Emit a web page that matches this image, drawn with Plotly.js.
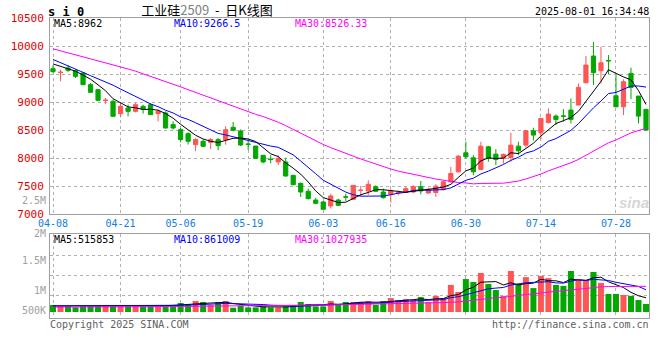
<!DOCTYPE html>
<html><head><meta charset="utf-8">
<script src="https://cdn.plot.ly/plotly-3.0.1.min.js"></script>
<style>html,body{margin:0;padding:0;background:#fff}#chart{width:660px;height:360px}</style>
</head><body><div id="chart"></div>
<script>
// ---------------- data ----------------
const dates = ['04-08','04-09','04-10','04-11','04-14','04-15','04-16','04-17','04-18','04-21','04-22','04-23','04-24','04-25','04-28','04-29','04-30',
'05-06','05-07','05-08','05-09','05-12','05-13','05-14','05-15','05-16','05-19','05-20','05-21','05-22','05-23','05-26','05-27','05-28','05-29','05-30',
'06-03','06-04','06-05','06-06','06-09','06-10','06-11','06-12','06-13','06-16','06-17','06-18','06-19','06-20','06-23','06-24','06-25','06-26','06-27','06-30',
'07-01','07-02','07-03','07-04','07-07','07-08','07-09','07-10','07-11','07-14','07-15','07-16','07-17','07-18','07-21','07-22','07-23','07-24','07-25','07-28','07-29','07-30','07-31',
'08-01'];
const openP  = [9595,9528,9607,9560,9518,9310,9220,9028,9012,8792, 8893,8833,8923,8952,8792,8804,8596,8506,8435,8238, 8298,8280,8328,8328,8548,8482,8250,8214,8048,7980,
                7929,7929,7691,7548,7405,7250,7215,7143,7250,7306, 7262,7420,7411,7488,7393,7351,7373,7393,7393,7488, 7375,7384,7437,7574,7753,8093,8003,7795,8200,8069,
                7992,8009,8212,8230,8486,8450,8635,8749,8752,8856, 8945,9344,9821,9559,9740,9112,8915,9511,9106,8868];
const highP  = [9660,9577,9655,9577,9530,9340,9232,9072,9042,8982, 8952,8982,8952,8982,8863,8833,8655,8536,8459,8358, 8328,8358,8358,8566,8643,8510,8304,8214,8048,8048,
                8048,8006,7691,7560,7453,7292,7233,7364,7274,7364, 7512,7500,7601,7512,7453,7441,7423,7488,7512,7590, 7470,7533,7604,7843,8051,8290,8051,8290,8218,8158,
                8081,8450,8290,8498,8540,8707,8885,8779,8874,9064, 9332,9821,10071,9988,9839,9482,9404,9613,9106,8880];
const lowP   = [9520,9369,9536,9429,9300,9161,9012,8970,8744,8726, 8744,8815,8792,8774,8655,8524,8506,8280,8240,8120, 8197,8161,8137,8238,8477,8214,8143,7988,7905,7905,
                7875,7667,7512,7304,7262,7173,7084,7096,7143,7233, 7250,7322,7334,7393,7274,7203,7333,7381,7369,7351, 7360,7306,7420,7560,7741,7992,7693,7783,7933,7872,
                7900,7933,8051,8188,8310,8331,8617,8588,8647,8617, 8945,9332,9303,9332,9500,8903,8766,9052,8617,8498];
const closeP = [9542,9532,9565,9458,9310,9173,9030,9033,8744,8923, 8833,8952,8875,8774,8833,8536,8536,8328,8298,8328, 8209,8328,8220,8506,8495,8232,8244,7994,7929,7972,
                7989,7679,7524,7393,7274,7191,7084,7322,7155,7302, 7512,7425,7530,7405,7292,7411,7378,7453,7488,7411, 7440,7497,7574,7723,8033,8021,7753,8212,7992,7974,
                8063,8230,8129,8486,8409,8707,8784,8689,8746,8689, 9261,9660,9523,9702,9735,8915,9362,9261,8748,8498];
const volume = [287,246,246,190,246,246,246,287,246,246, 287,246,246,287,246,287,287,369,328,450,
                410,287,410,450,175,260,190,190,230,190, 190,230,287,410,328,230,230,450,330,410,
                410,410,450,290,450,570,490,530,490,610, 410,660,570,1110,820,1350,1230,1600,1150,900,
                660,1680,1150,1430,980,1480,1390,1110,1070,1680, 1310,1310,1640,1190,740,740,700,660,490,330].map(v => v * 1000);
// moving-average values before a full window exists
const ma5Head  = [9680,9640,9600,9550];
const ma10Head = [9760,9705,9650,9590,9530,9470,9415,9360,9300];
const ma30Head = [9950,9915,9880,9845,9805,9770,9740,9705,9668,9630,9590,9550,9505,9460,9415,9370,9320,9270,9220,9170,9120,9070,9020,8970,8920,8870,8820,8780,8740];
const vma5Head  = [250000,250000,245000,240000];
const vma10Head = [250000,250000,250000,248000,246000,245000,245000,245000,248000];
const vma30Head = [200000,200000,200000,205000,205000,205000,210000,210000,210000,215000,215000,215000,220000,220000,220000,225000,225000,230000,230000,235000,240000,245000,250000,250000,255000,260000,265000,270000,275000];
const tickDates = ['04-08','04-21','05-06','05-19','06-03','06-16','06-30','07-14','07-28'];
const priceLegend = ['MA5:8962','MA10:9266.5','MA30:8526.33'];
const volLegend   = ['MA5:515853','MA10:861009','MA30:1027935'];
const volTickLabels = ['2.5M','2M','1.5M','1M','500K'];
const titleText = '工业硅<span style="color:#808080">2509</span>&nbsp; -&nbsp; 日K线图';
const symbolText = 's i 0';
const timeText = '2025-08-01 16:34:48';
const copyText = 'Copyright 2025 SINA.COM';
const urlText = 'http://finance.sina.com.cn';

// ---------------- helpers ----------------
function movingAvg(vals, n, head) {
  return vals.map((v, i) => {
    if (i < n - 1) return head[i];
    let s = 0; for (let k = i - n + 1; k <= i; k++) s += vals[k];
    return s / n;
  });
}
const idx = dates.map((d, i) => i);
const RED = '#ff5555', GREEN = '#00a800';
const MONO = 'DejaVu Sans Mono, Liberation Mono, monospace';
const W = 660, H = 360, L = 50, R = 11, T = 18, B = 42;
const pw = W - L - R, ph = H - T - B;
const px = x => (x - L) / pw;
const py = y => (H - B - y) / ph;
const xRange = [-0.4, dates.length - 1 + 0.4];
const tickvals = tickDates.map(d => Math.max(dates.indexOf(d), xRange[0]));
const volRange = [-246000, 3184000];
const volGrid = [0.27, 0.51, 0.75].map(f => volRange[0] + (volRange[1] - volRange[0]) * f);

const ma5 = movingAvg(closeP, 5, ma5Head);
const ma10 = movingAvg(closeP, 10, ma10Head);
const ma30 = movingAvg(closeP, 30, ma30Head);
const vma5 = movingAvg(volume, 5, vma5Head);
const vma10 = movingAvg(volume, 10, vma10Head);
const vma30 = movingAvg(volume, 30, vma30Head);
const volColors = idx.map(i => closeP[i] >= openP[i] ? RED : GREEN);

const traces = [
  {type: 'candlestick', x: idx, open: openP, high: highP, low: lowP, close: closeP,
   xaxis: 'x', yaxis: 'y', whiskerwidth: 0, hoverinfo: 'skip',
   increasing: {line: {color: RED, width: 1}, fillcolor: RED},
   decreasing: {line: {color: GREEN, width: 1}, fillcolor: GREEN}},
  {type: 'scatter', mode: 'lines', x: idx, y: ma30, line: {color: '#ff00ff', width: 1}, xaxis: 'x', yaxis: 'y'},
  {type: 'scatter', mode: 'lines', x: idx, y: ma10, line: {color: '#0000ff', width: 1}, xaxis: 'x', yaxis: 'y'},
  {type: 'scatter', mode: 'lines', x: idx, y: ma5, line: {color: '#000000', width: 1}, xaxis: 'x', yaxis: 'y'},
  {type: 'bar', x: idx, y: volume, marker: {color: volColors, line: {width: 0}}, xaxis: 'x2', yaxis: 'y2'},
  {type: 'scatter', mode: 'lines', x: idx, y: vma5, line: {color: '#000000', width: 1}, xaxis: 'x2', yaxis: 'y2'},
  {type: 'scatter', mode: 'lines', x: idx, y: vma10, line: {color: '#0000ff', width: 1}, xaxis: 'x2', yaxis: 'y2'},
  {type: 'scatter', mode: 'lines', x: idx, y: vma30, line: {color: '#ff00ff', width: 1}, xaxis: 'x2', yaxis: 'y2'}
];

const gridStyle = {showgrid: true, gridcolor: '#b0b0b0', griddash: 'dot', gridwidth: 1,
  showline: true, linecolor: '#a0a0a0', linewidth: 1, mirror: true, zeroline: false, ticks: ''};

const ann = [];
function txt(text, x, y, anchor, color, size, extra) {
  ann.push(Object.assign({text, xref: 'paper', yref: 'paper', x: px(x), y: py(y), xanchor: anchor, yanchor: 'middle',
    showarrow: false, borderpad: 0, font: {family: MONO, size, color}}, extra || {}));
}
txt('<b>' + symbolText + '</b>', 47, 12, 'left', '#000', 12);
txt(timeText, 650, 12, 'right', '#000', 10);
const legendColors = ['#000000', '#0000ff', '#ff00ff'];
const legendX = [53, 173, 294];
priceLegend.forEach((t, i) => txt(t, legendX[i], 23.5, 'left', legendColors[i], 10));
volLegend.forEach((t, i) => txt(t, legendX[i], 239, 'left', legendColors[i], 10));
const volLabelY = [200.7, 233.5, 260.7, 290, 310];
volTickLabels.forEach((t, i) => txt(t, 47, volLabelY[i], 'right', '#a0a0a0', 10));
txt(copyText, 49, 324.5, 'left', '#606060', 10);
txt(urlText, 650, 324, 'right', '#606060', 10);
ann.push({text: '<b><i>sina</i></b>', xref: 'paper', yref: 'paper', x: px(634), y: py(202), xanchor: 'center', yanchor: 'middle',
  showarrow: false, font: {family: 'Liberation Sans, Arial', size: 15, color: '#d6d6d6'}});

const layout = {
  width: W, height: H, margin: {l: L, r: R, t: T, b: B, pad: 0},
  paper_bgcolor: '#fff', plot_bgcolor: '#fff', showlegend: false,
  boxgap: 0.2, bargap: 0.2, hovermode: false,
  title: {text: titleText, xref: 'container', yref: 'container', x: 207 / W, y: 1 - 10 / H, xanchor: 'center', yanchor: 'middle',
    font: {family: 'Noto Sans CJK SC', size: 13, color: '#000'}},
  xaxis: Object.assign({}, gridStyle, {range: xRange, anchor: 'y', tickmode: 'array', tickvals, ticktext: tickDates,
    tickfont: {family: MONO, size: 10, color: '#1080e0'}, rangeslider: {visible: false}, linewidth: 1, ticklabelstandoff: 0}),
  xaxis2: Object.assign({}, gridStyle, {matches: 'x', range: xRange, anchor: 'y2', tickmode: 'array', tickvals, showticklabels: false}),
  yaxis: Object.assign({}, gridStyle, {domain: [py(214), 1], range: [7000, 10500], dtick: 500, tick0: 7000, tickformat: 'd',
    tickfont: {family: MONO, size: 11, color: '#e00000'}, ticklabelstandoff: 3}),
  yaxis2: Object.assign({}, gridStyle, {domain: [0, py(234.3)], range: volRange, tickmode: 'array', tickvals: volGrid, showticklabels: false}),
  annotations: ann
};
Plotly.newPlot('chart', traces, layout, {staticPlot: true, displayModeBar: false});
</script>
</body></html>
